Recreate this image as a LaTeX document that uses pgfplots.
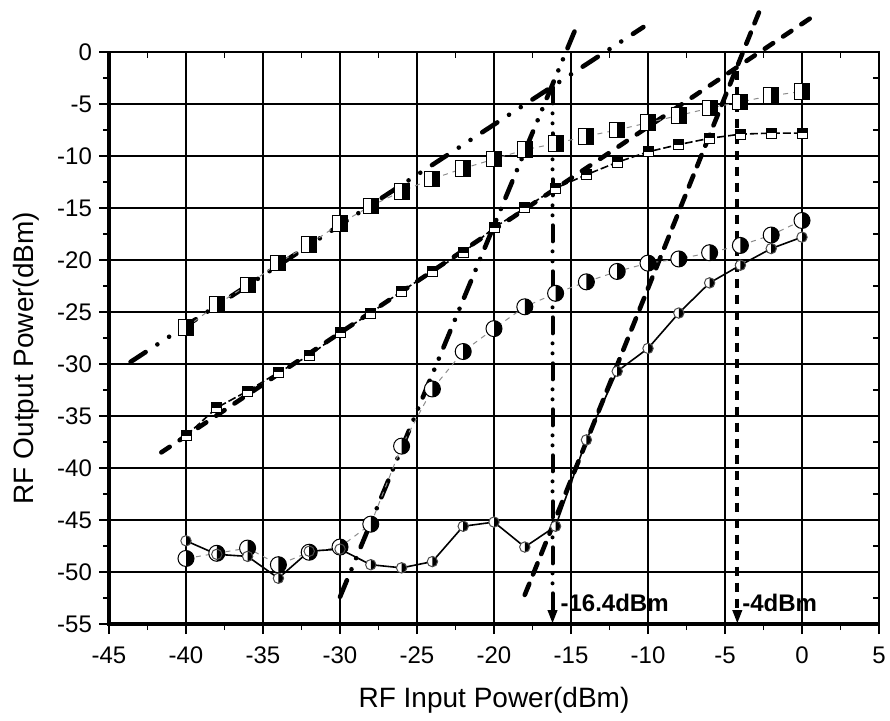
\documentclass[border=0pt]{standalone}
\usepackage{pgfplots}
\pgfplotsset{compat=1.18}
\usepackage{fontspec}
\setmainfont{Liberation Sans}
\usetikzlibrary{arrows.meta}

% big square: left white, right black
\pgfdeclareplotmark{bsq}{%
  \pgfpathrectangle{\pgfqpoint{-3.75pt}{-3.9pt}}{\pgfqpoint{7.5pt}{7.8pt}}%
  \pgfsetfillcolor{white}\pgfusepath{fill}%
  \pgfpathrectangle{\pgfqpoint{0pt}{-3.9pt}}{\pgfqpoint{3.75pt}{7.8pt}}%
  \pgfsetfillcolor{black}\pgfusepath{fill}%
  \pgfpathrectangle{\pgfqpoint{-3.75pt}{-3.9pt}}{\pgfqpoint{7.5pt}{7.8pt}}%
  \pgfusepath{stroke}%
}
% small square: top black, bottom white
\pgfdeclareplotmark{ssq}{%
  \pgfpathrectangle{\pgfqpoint{-2.5pt}{-2.5pt}}{\pgfqpoint{5pt}{5pt}}%
  \pgfsetfillcolor{white}\pgfusepath{fill}%
  \pgfpathrectangle{\pgfqpoint{-2.5pt}{0pt}}{\pgfqpoint{5pt}{2.5pt}}%
  \pgfsetfillcolor{black}\pgfusepath{fill}%
  \pgfpathrectangle{\pgfqpoint{-2.5pt}{-2.5pt}}{\pgfqpoint{5pt}{5pt}}%
  \pgfusepath{stroke}%
}
% big circle: left white, right black
\pgfdeclareplotmark{bci}{%
  \pgfpathcircle{\pgfpointorigin}{4pt}%
  \pgfsetfillcolor{white}\pgfusepath{fill}%
  \pgfpathmoveto{\pgfqpoint{0pt}{-4pt}}\pgfpatharc{-90}{90}{4pt}\pgfpathclose
  \pgfsetfillcolor{black}\pgfusepath{fill}%
  \pgfpathcircle{\pgfpointorigin}{4pt}\pgfusepath{stroke}%
}
% small circle: left white, right black
\pgfdeclareplotmark{sci}{%
  \pgfpathcircle{\pgfpointorigin}{2.6pt}%
  \pgfsetfillcolor{white}\pgfusepath{fill}%
  \pgfpathmoveto{\pgfqpoint{0pt}{-2.6pt}}\pgfpatharc{-90}{90}{2.6pt}\pgfpathclose
  \pgfsetfillcolor{black}\pgfusepath{fill}%
  \pgfpathcircle{\pgfpointorigin}{2.6pt}\pgfusepath{stroke}%
}

\pgfplotstableread{
x   bs     ss     bc     sc
-40 -26.5  -36.9  -48.7  -47.0
-38 -24.3  -34.2  -48.2  -48.3
-36 -22.4  -32.6  -47.7  -48.5
-34 -20.3  -30.8  -49.3  -50.6
-32 -18.5  -29.2  -48.1  -48.0
-30 -16.5  -27.0  -47.6  -47.8
-28 -14.8  -25.1  -45.4  -49.3
-26 -13.4  -23.0  -37.9  -49.6
-24 -12.2  -21.1  -32.4  -49.0
-22 -11.2  -19.3  -28.8  -45.6
-20 -10.3  -16.9  -26.6  -45.2
-18 -9.4   -15.0  -24.5  -47.6
-16 -8.8   -13.1  -23.2  -45.6
-14 -8.1   -11.8  -22.1  -37.3
-12 -7.5   -10.6  -21.1  -30.7
-10 -6.8   -9.6   -20.3  -28.5
-8  -6.1   -8.9   -19.9  -25.1
-6  -5.4   -8.3   -19.3  -22.2
-4  -4.8   -7.9   -18.6  -20.5
-2  -4.2   -7.8   -17.6  -18.9
0   -3.8   -7.8   -16.2  -17.8
}\datatable

\begin{document}
\begin{tikzpicture}
\begin{axis}[
  scale only axis, width=385pt, height=286pt,
  xmin=-45, xmax=5, ymin=-55, ymax=0,
  xtick={-45,-40,...,5}, ytick={-55,-50,...,0},
  xticklabels={-45,-40,-35,-30,-25,-20,-15,-10,-5,0,5},
  yticklabels={-55,-50,-45,-40,-35,-30,-25,-20,-15,-10,-5,0},
  minor x tick num=1, minor y tick num=1,
  tick align=outside, xtick pos=left, ytick pos=left,
  major tick length=5pt, minor tick length=3pt,
  every tick/.style={black, line width=0.8pt},
  grid=major, major grid style={black, line width=0.8pt},
  axis line style={black, line width=0.8pt},
  ticklabel style={font=\fontsize{12}{14}\selectfont},
  xticklabel style={yshift=-3pt},
  xlabel={RF Input Power(dBm)}, ylabel={RF Output Power(dBm)},
  label style={font=\fontsize{14}{16}\selectfont},
  xlabel style={at={(axis description cs:0.5,-0.134)}, anchor=center},
  ylabel style={at={(axis description cs:-0.108,0.465)}, anchor=center},
  clip=false,
]
% fitted lines
\addplot[black, line width=2.3pt, line cap=round, dash pattern=on 9pt off 7pt on 0pt off 7pt on 0pt off 7pt] coordinates {(-43.6,-29.8) (-10.3,2.4)};
\addplot[black, line width=2.3pt, line cap=round, dash pattern=on 5pt off 6pt] coordinates {(-41.6,-38.5) (1.0,3.7)};
\addplot[black, line width=2.3pt, line cap=round, dash pattern=on 9pt off 6pt on 0pt off 6pt on 0pt off 6pt] coordinates {(-30,-52.4) (-14.6,2.6)};
\addplot[black, line width=2.3pt, line cap=round, dash pattern=on 6pt off 5pt] coordinates {(-18,-52.2) (-2.8,3.8)};
% data
\addplot[black!45, line width=0.5pt, dash pattern=on 2.5pt off 2.5pt, mark=bsq, mark options={solid, draw=black, line width=0.5pt}] table[x=x, y=bs] {\datatable};
\addplot[black, line width=0.8pt, dash pattern=on 4pt off 1.5pt, mark=ssq, mark options={solid, draw=black, line width=0.5pt}] table[x=x, y=ss] {\datatable};
\addplot[black!45, line width=0.5pt, dash pattern=on 2.5pt off 2.5pt, mark=bci, mark options={solid, draw=black, line width=0.5pt}] table[x=x, y=bc] {\datatable};
\addplot[black, line width=0.8pt, mark=sci, mark options={solid, draw=black!70, line width=0.5pt}] table[x=x, y=sc] {\datatable};
% vertical markers
\addplot[black, line width=2pt, line cap=round, dash pattern=on 8pt off 5pt on 0pt off 5pt on 0pt off 5pt, -{Triangle[width=4.5pt,length=7pt]}] coordinates {(-16.2,-3.4) (-16.2,-55)};
\addplot[black, line width=2pt, dash pattern=on 4.5pt off 3.5pt, -{Triangle[width=4.5pt,length=7pt]}] coordinates {(-4.2,-1.8) (-4.2,-55)};
\node[anchor=west, inner sep=0pt, font=\bfseries\fontsize{12}{14}\selectfont] at (axis cs:-15.7,-53.0) {-16.4dBm};
\node[anchor=west, inner sep=0pt, font=\bfseries\fontsize{12}{14}\selectfont] at (axis cs:-3.9,-53.0) {-4dBm};
% thicker left and bottom axis lines
\draw[black, line width=1.6pt] (rel axis cs:0,1) -- (rel axis cs:0,0) -- (rel axis cs:1,0);
\coordinate (ll) at (rel axis cs:0,0);
\coordinate (ur) at (rel axis cs:1,1);
\end{axis}
\begin{axis}[
  scale only axis, width=385pt, height=286pt,
  xmin=-45, xmax=5, ymin=-55, ymax=0,
  xtick={-45,-40,...,5}, ytick={-55,-50,...,0},
  minor x tick num=1, minor y tick num=1,
  xticklabels={}, yticklabels={},
  tick align=inside, xtick pos=right, ytick pos=right,
  major tick length=3pt, minor tick length=3pt,
  every tick/.style={black, line width=0.8pt},
  axis line style={draw=none},
]
\end{axis}
\pgfresetboundingbox
\path[use as bounding box] ([shift={(-54.5pt,-48pt)}]ll) rectangle ([shift={(5.5pt,26pt)}]ur);
\end{tikzpicture}
\end{document}
